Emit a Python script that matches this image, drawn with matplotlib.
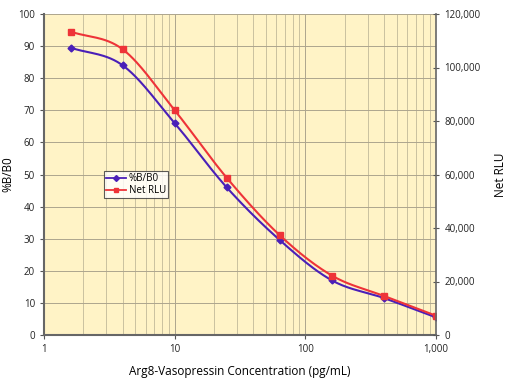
import numpy as np
import matplotlib
matplotlib.use("Agg")
import matplotlib.pyplot as plt
from matplotlib.ticker import FuncFormatter, LogLocator, FixedLocator
from matplotlib.lines import Line2D

# Data
conc = [1.6, 4, 10, 25, 64, 160, 400, 1000]
pct_b_b0 = [89.5, 84.0, 66.0, 46.0, 29.5, 17.0, 11.5, 5.5]
net_rlu = [113400, 106800, 84000, 58800, 37200, 22200, 14600, 7200]

plt.rcParams['font.family'] = ['Open Sans', 'DejaVu Sans']

def smooth(xs, ys, n=30):
    # Catmull-Rom spline in log-x space (for drawing the curve only)
    lx = np.log10(np.asarray(xs, float))
    y = np.asarray(ys, float)
    P = np.column_stack([lx, y])
    P = np.vstack([2 * P[0] - P[1], P, 2 * P[-1] - P[-2]])
    out = []
    for i in range(1, len(P) - 2):
        p0, p1, p2, p3 = P[i - 1], P[i], P[i + 1], P[i + 2]
        t = np.linspace(0, 1, n, endpoint=False)[:, None]
        seg = 0.5 * ((2 * p1) + (-p0 + p2) * t + (2 * p0 - 5 * p1 + 4 * p2 - p3) * t**2
                     + (-p0 + 3 * p1 - 3 * p2 + p3) * t**3)
        out.append(seg)
    out.append(P[-2][None, :])
    out = np.vstack(out)
    return 10 ** out[:, 0], out[:, 1]

fig = plt.figure(figsize=(5.2, 3.81), dpi=100)
ax = fig.add_axes([44 / 520, 46 / 381, 392 / 520, 321 / 381])
ax.set_facecolor('#FFF3C6')
ax.set_xscale('log')
ax.set_xlim(1, 1000)
ax.set_ylim(0, 100)
ax.set_yticks(np.arange(0, 101, 10))
ax.xaxis.set_major_locator(FixedLocator([1, 10, 100, 1000]))
ax.xaxis.set_minor_locator(LogLocator(base=10, subs=np.arange(2, 10)))
ax.xaxis.set_major_formatter(FuncFormatter(lambda v, p: f"{v:,.0f}"))
ax.grid(True, which='major', color='#ADA58E', lw=0.7)
ax.grid(True, which='minor', axis='x', color='#C2B999', lw=0.6)
ax.set_axisbelow(True)

blue = '#4A1FB8'
red = '#EE3338'
sx, sy = smooth(conc, pct_b_b0)
ax.plot(sx, sy, color=blue, lw=1.5)
ax.plot(conc, pct_b_b0, ls='none', marker='D', ms=3.5, color=blue)

ax2 = ax.twinx()
ax2.set_ylim(0, 120000)
ax2.set_yticks(np.arange(0, 120001, 20000))
ax2.yaxis.set_major_formatter(FuncFormatter(lambda v, p: f"{v:,.0f}"))
rx, ry = smooth(conc, net_rlu)
ax2.plot(rx, ry, color=red, lw=1.5)
ax2.plot(conc, net_rlu, ls='none', marker='s', ms=4.5, color=red)

for a in (ax, ax2):
    for s in a.spines.values():
        s.set_visible(False)
    a.tick_params(labelsize=7, length=3, width=0.8, color='#555555', colors='#222222')
ax.spines['left'].set_visible(True)
ax.spines['bottom'].set_visible(True)
ax.spines['left'].set_color('#666666')
ax.spines['bottom'].set_color('#666666')
ax.spines['left'].set_linewidth(1.5)
ax.spines['bottom'].set_linewidth(1.5)
ax2.spines['right'].set_visible(True)
ax2.spines['right'].set_color('#666666')
ax2.spines['right'].set_linewidth(1.2)
ax.tick_params(axis='x', which='minor', length=0)
ax2.tick_params(axis='y', direction='inout', length=5)

ax.set_xlabel('Arg8-Vasopressin Concentration (pg/mL)', fontsize=8.5, labelpad=7)
ax.set_ylabel('%B/B0', fontsize=8.5, labelpad=3)
ax2.set_ylabel('Net RLU', fontsize=8.5, labelpad=10)

h1 = Line2D([], [], color=blue, lw=1.3, marker='D', ms=3)
h2 = Line2D([], [], color=red, lw=1.3, marker='s', ms=3)
leg = ax.legend([h1, h2], ['%B/B0', 'Net RLU'], loc='upper left',
                bbox_to_anchor=(60 / 392, 1 - 157 / 321), fontsize=7,
                frameon=True, fancybox=False, edgecolor='#333333',
                handlelength=2.0, handletextpad=0.3, borderpad=0.25,
                labelspacing=0.05, borderaxespad=0)
leg.get_frame().set_facecolor('white')
leg.get_frame().set_linewidth(0.8)

fig.savefig('out.png', dpi=100, facecolor='white')
